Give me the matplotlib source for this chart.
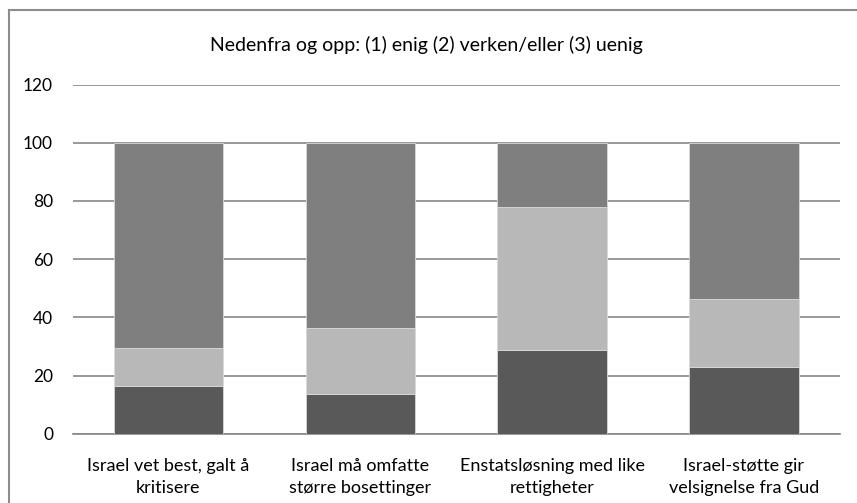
import matplotlib
matplotlib.use("Agg")
import matplotlib.pyplot as plt
import numpy as np

plt.rcParams['font.family'] = ['Lato', 'DejaVu Sans']

categories = ["Israel vet best, galt å\nkritisere",
              "Israel må omfatte\nstørre bosettinger",
              "Enstatsløsning med like\nrettigheter",
              "Israel-støtte gir\nvelsignelse fra Gud"]
enig = [16.6, 13.7, 28.8, 22.9]
verken = [12.8, 22.6, 49.2, 23.4]
uenig = [70.6, 63.7, 22.0, 53.7]
yticks = [0, 20, 40, 60, 80, 100, 120]
title = "Nedenfra og opp: (1) enig (2) verken/eller (3) uenig"

fig = plt.figure(figsize=(8.57, 5.03), dpi=100)
ax = fig.add_axes([0.0846, 0.1372, 0.8954, 0.6948])

x = np.arange(len(categories))
w = 0.57
ax.bar(x, enig, w, color="#595959", edgecolor="#d9d9d9", linewidth=0.6, zorder=3)
ax.bar(x, verken, w, bottom=enig, color="#b8b8b8", edgecolor="#d9d9d9", linewidth=0.6, zorder=3)
bottom2 = np.array(enig) + np.array(verken)
ax.bar(x, uenig, w, bottom=bottom2, color="#7f7f7f", edgecolor="#d9d9d9", linewidth=0.6, zorder=3)

ax.set_ylim(0, 120)
ax.set_xlim(-0.5, len(categories) - 0.5)
ax.set_yticks(yticks)
ax.yaxis.grid(True, color="#868686", linewidth=1.2, zorder=0)
ax.set_xticks(x)
ax.set_xticklabels(categories, fontsize=13, linespacing=1.5)
ax.tick_params(axis='y', length=0, labelsize=12.5, colors="black", pad=14)
ax.tick_params(axis='x', length=0, colors="black", pad=17)
for s in ['top', 'right', 'left']:
    ax.spines[s].set_visible(False)
ax.spines['bottom'].set_color("#868686")
ax.spines['bottom'].set_linewidth(1.2)

fig.text(0.498, 0.91, title, ha='center', va='center', fontsize=14)

# outer chart border (only top and left visible)
fig.add_artist(plt.Line2D([0.0105, 1.0], [0.980, 0.980], color="#8c8c8c", linewidth=1.5, transform=fig.transFigure))
fig.add_artist(plt.Line2D([0.0105, 0.0105], [0.0, 0.980], color="#8c8c8c", linewidth=1.5, transform=fig.transFigure))

fig.savefig("out.png", dpi=100)
